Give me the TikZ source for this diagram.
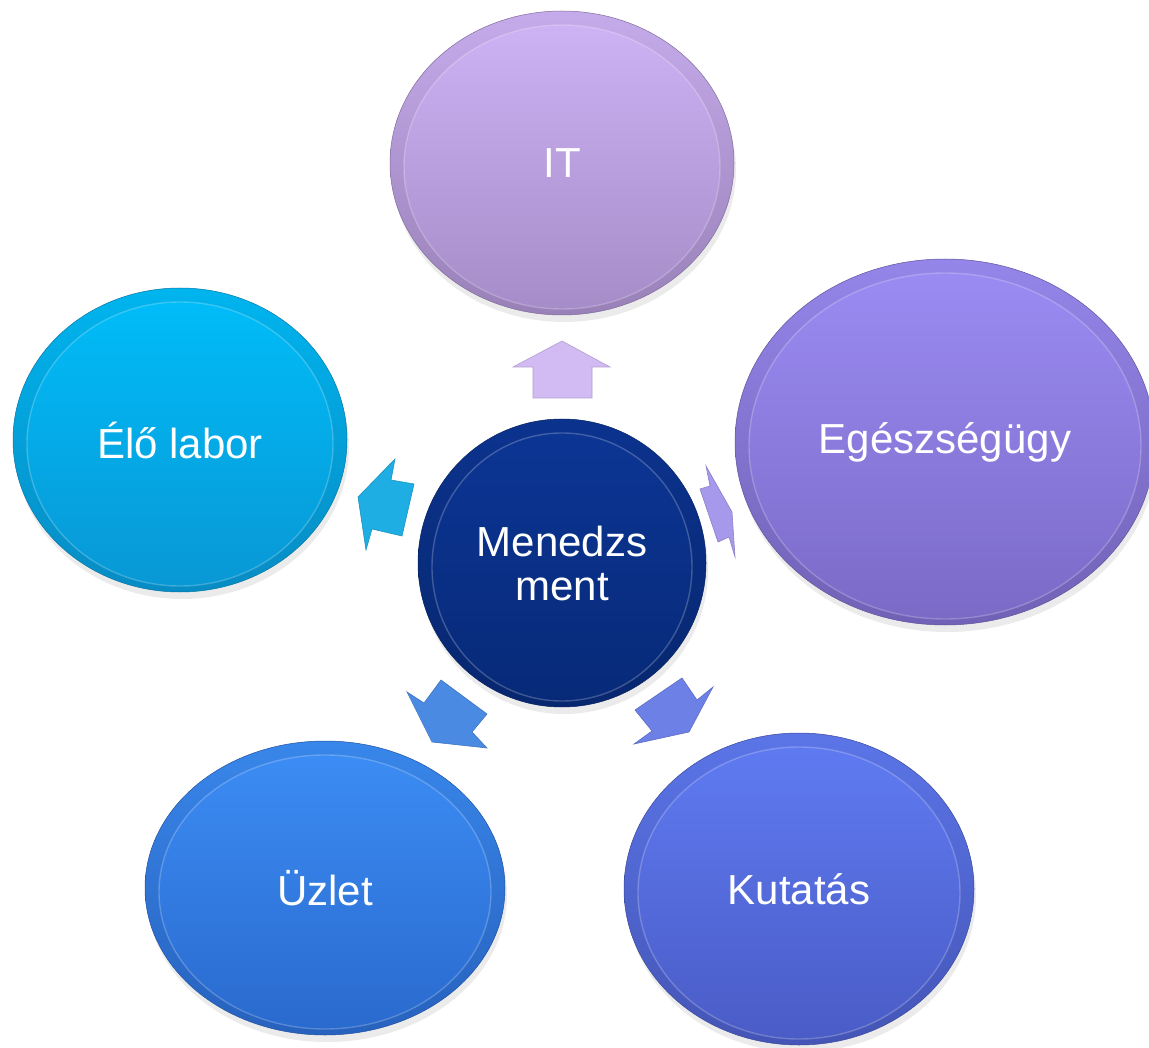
\documentclass[tikz,border=0pt]{standalone}
\usepackage{fontspec}
\setmainfont{Liberation Sans}
\usetikzlibrary{shapes.geometric}

% bubble fills (top / bottom of the gradient)
\definecolor{itT}{HTML}{CDB2F4}\definecolor{itB}{HTML}{A68CC8}
\definecolor{egT}{HTML}{9A8BF3}\definecolor{egB}{HTML}{7B6AC6}
\definecolor{elT}{HTML}{00BCF8}\definecolor{elB}{HTML}{0898D5}
\definecolor{meT}{HTML}{0C3594}\definecolor{meB}{HTML}{072A78}
\definecolor{uzT}{HTML}{3B8CF4}\definecolor{uzB}{HTML}{2A6ACE}
\definecolor{kuT}{HTML}{5F7AF1}\definecolor{kuB}{HTML}{4A5CC6}
% block arrow fills
\definecolor{aIT}{HTML}{D2BAF3}
\definecolor{aEl}{HTML}{1FAEE3}
\definecolor{aEg}{HTML}{A698EB}
\definecolor{aUz}{HTML}{4A8AE3}
\definecolor{aKu}{HTML}{6D80E5}

\tikzset{
  bubbletext/.style={ellipse, inner sep=0pt, text=white, align=center,
    font=\fontsize{42}{44}\selectfont},
  blockarrow/.style={draw=#1!85!black, line width=0.6pt, fill=#1,
    line join=miter},
}

% #1 name, #2 x, #3 y, #4 x radius, #5 y radius, #6 top colour, #7 bottom colour, #8 text
\newcommand\bubble[8]{%
  \fill[black, opacity=0.08] (#2+2,#3+7) ellipse [x radius=#4, y radius=#5];
  \shade[top color=#6!96!black, bottom color=#7!92!black, draw=#7!78!black, line width=0.5pt]
    (#2,#3) ellipse [x radius=#4, y radius=#5];
  \shade[top color=#6, bottom color=#7]
    (#2,#3+4) ellipse [x radius=#4-14, y radius=#5-10];
  \draw[white, opacity=0.22, line width=1.4pt]
    (#2,#3+4) ellipse [x radius=#4-14, y radius=#5-10];
  \node[bubbletext, minimum width=2*#4, minimum height=2*#5] (#1) at (#2,#3) {#8};
}

\begin{document}
\begin{tikzpicture}[x=1pt, y=-1pt]
  \useasboundingbox (0,0) rectangle (1149,1048);
  \clip (0,0) rectangle (1149,1048);
  \fill[white] (0,0) rectangle (1149,1048);

  % outer topics
  \bubble{it}{562}{163}{172}{152}{itT}{itB}{IT}
  \bubble{ege}{945}{442}{210}{183}{egT}{egB}{Egészségügy}
  \bubble{elo}{180}{440}{167}{152}{elT}{elB}{Élő labor}
  \bubble{uzl}{325}{888}{180}{147}{uzT}{uzB}{Üzlet}
  \bubble{kut}{799}{889}{175}{156}{kuT}{kuB}{Kutatás}

  % hub
  \bubble{men}{562}{563}{144}{144}{meT}{meB}{Menedzs\\ment}

  % block arrows from the hub outwards
  \draw[blockarrow=aIT] (562,341) -- (610,367) -- (592,367) -- (592,398)
    -- (533,398) -- (533,367) -- (513,367) -- cycle;
  \draw[blockarrow=aEl] (395,459) -- (391,480) -- (414,484) -- (402,536)
    -- (372,529) -- (366,550) -- (358,497) -- cycle;
  \draw[blockarrow=aEg] (706,466) -- (710,486) -- (700,489) -- (718,542)
    -- (729,537) -- (735,557) -- (732,512) -- cycle;
  \draw[blockarrow=aUz] (407,692) -- (424,703) -- (441,680) -- (487,714)
    -- (472,732) -- (487,748) -- (432,742) -- cycle;
  \draw[blockarrow=aKu] (682,678) -- (697,700) -- (713,687) -- (689,732)
    -- (634,744) -- (652,731) -- (635,710) -- cycle;
\end{tikzpicture}
\end{document}
